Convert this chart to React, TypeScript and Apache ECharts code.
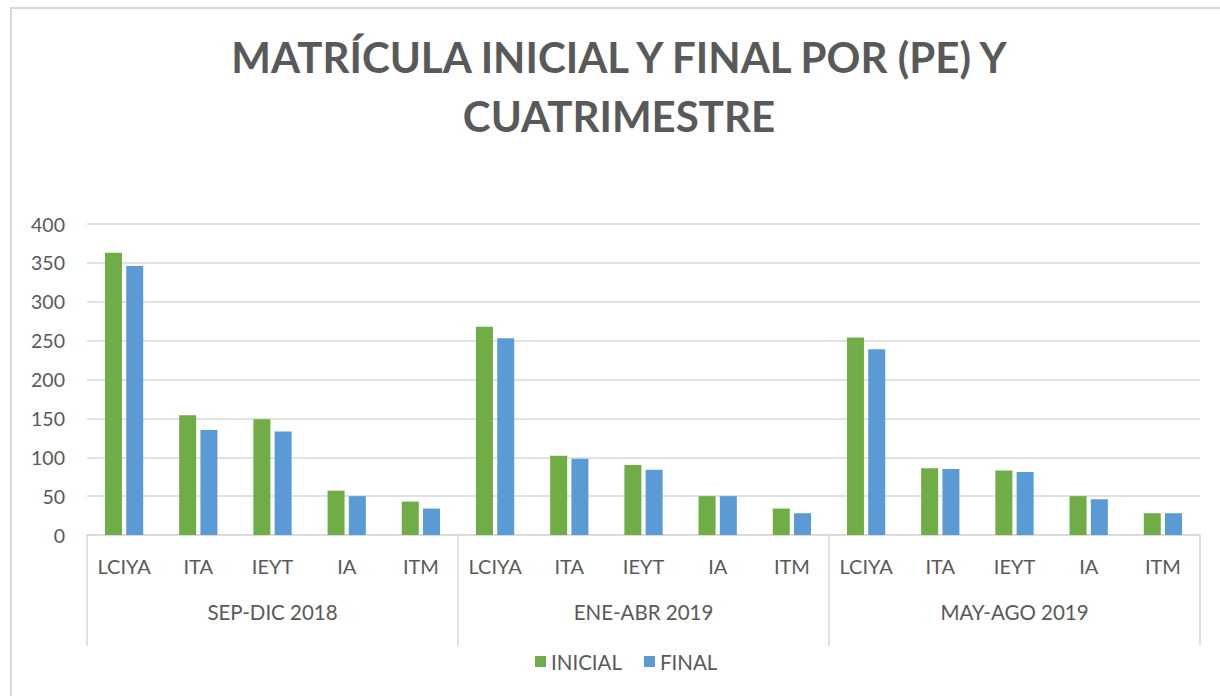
import React, { useEffect, useRef } from "react";
import * as echarts from "echarts";

const programs = ["LCIYA", "ITA", "IEYT", "IA", "ITM"];
const periods = ["SEP-DIC 2018", "ENE-ABR 2019", "MAY-AGO 2019"];
const inicial = [363, 154, 149, 57, 43, 268, 102, 90, 50, 34, 254, 86, 83, 50, 28];
const final = [346, 135, 133, 50, 34, 253, 98, 84, 50, 28, 239, 85, 81, 46, 28];
const yTicks = { min: 0, max: 400, interval: 50 };

const FONT = "Lato, 'Open Sans', sans-serif";
const TXT = "#595959";
const GRID = "#d9d9d9";

export default function App() {
  const ref = useRef<HTMLDivElement>(null);
  useEffect(() => {
    document.body.style.margin = "0";
    const chart = echarts.init(ref.current!, undefined, { renderer: "svg" });
    const cats: string[] = [];
    periods.forEach(() => programs.forEach((p) => cats.push(p)));
    chart.setOption({
      animation: false,
      textStyle: { fontFamily: FONT },
      graphic: [
        {
          type: "rect",
          shape: { x: 11, y: 8, width: 1400, height: 900 },
          style: { fill: "none", stroke: GRID, lineWidth: 2 },
          silent: true,
        },
      ],
      title: {
        text: "MATRÍCULA INICIAL Y FINAL POR (PE) Y\nCUATRIMESTRE",
        left: 614,
        top: 22,
        textAlign: "center",
        textStyle: {
          fontFamily: FONT,
          fontSize: 42,
          fontWeight: "bold",
          color: TXT,
          lineHeight: 59,
        },
      },
      legend: {
        data: ["INICIAL", "FINAL"],
        left: 530,
        top: 646,
        icon: "rect",
        itemWidth: 11,
        itemHeight: 11,
        itemGap: 22,
        textStyle: { fontFamily: FONT, fontSize: 20.5, color: TXT },
      },
      grid: { left: 87, right: 20, top: 224, bottom: 161, containLabel: false },
      xAxis: [
        {
          type: "category",
          data: cats,
          position: "bottom",
          axisLine: { show: true, lineStyle: { color: GRID, width: 1.5 } },
          axisTick: { show: false },
          axisLabel: { margin: 21, fontSize: 20, color: TXT, fontFamily: FONT, interval: 0 },
        },
        {
          type: "category",
          data: periods,
          position: "bottom",
          gridIndex: 0,
          axisLine: { show: false },
          axisTick: { show: true, length: 111, lineStyle: { color: GRID, width: 1.5 } },
          axisLabel: { margin: 66, fontSize: 20.5, color: TXT, fontFamily: FONT },
          splitLine: { show: false },
        },
      ],
      yAxis: {
        type: "value",
        min: yTicks.min,
        max: yTicks.max,
        interval: yTicks.interval,
        axisLine: { show: false },
        axisTick: { show: false },
        axisLabel: { margin: 22, fontSize: 19.5, color: TXT, fontFamily: FONT },
        splitLine: { lineStyle: { color: GRID, width: 1.5 } },
      },
      series: [
        {
          name: "INICIAL",
          type: "bar",
          xAxisIndex: 0,
          data: inicial,
          barWidth: 17,
          barGap: "25%",
          itemStyle: { color: "#70ad47" },
        },
        {
          name: "FINAL",
          type: "bar",
          xAxisIndex: 0,
          data: final,
          barWidth: 17,
          barGap: "25%",
          itemStyle: { color: "#5b9bd5" },
        },
      ],
    });
    return () => chart.dispose();
  }, []);
  return <div ref={ref} style={{ width: 1220, height: 696 }} />;
}
